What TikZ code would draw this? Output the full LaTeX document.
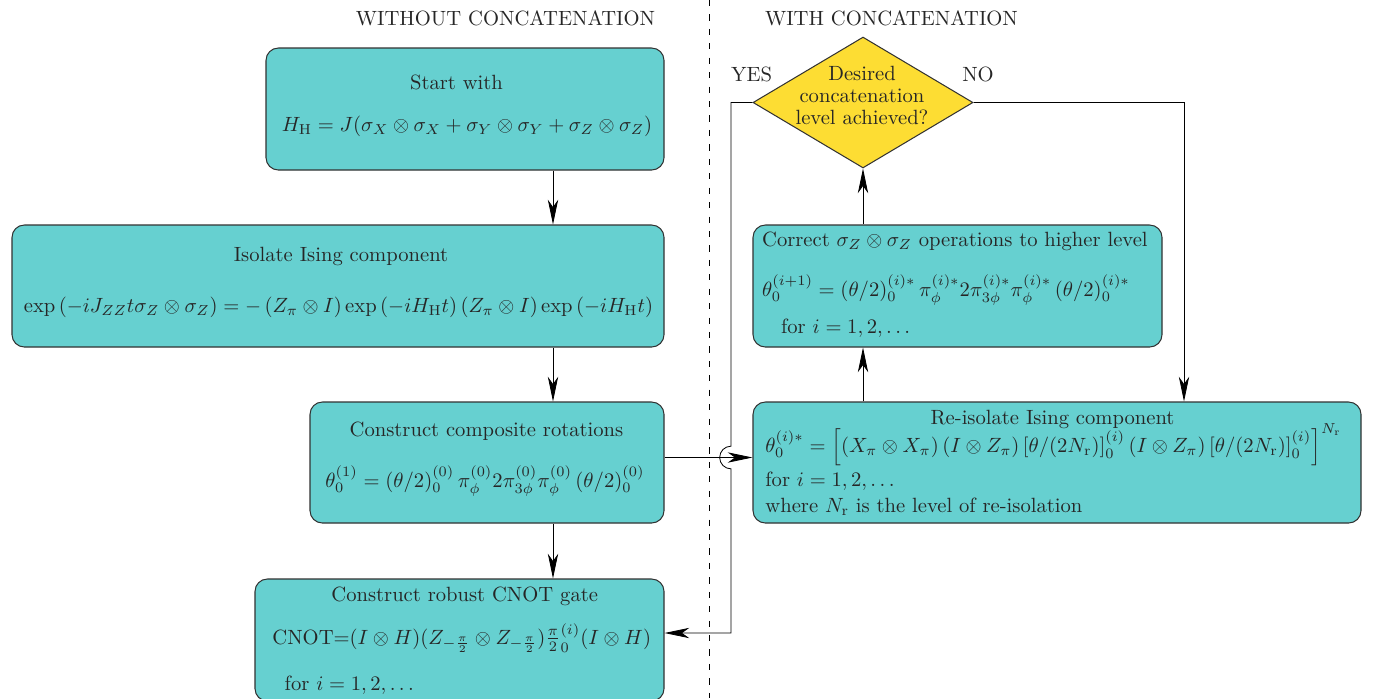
\documentclass[tikz,border=0pt]{standalone}
\usetikzlibrary{arrows.meta,shapes.geometric,fit,calc}
\definecolor{boxteal}{RGB}{102,208,208}
\definecolor{decyellow}{RGB}{253,221,51}
\definecolor{edgegray}{RGB}{50,50,50}
\begin{document}
\begin{tikzpicture}[x=0.485pt,y=-0.485pt,
  box/.style={draw=edgegray, fill=boxteal, rounded corners=6pt, line width=0.5pt, inner sep=0pt},
  dec/.style={diamond, draw=edgegray, fill=decyellow, line width=0.5pt, inner sep=0pt,
    minimum width=106.7pt, minimum height=63.5pt},
  arr/.style={draw=black, line width=0.4pt, -{Stealth[length=12pt,width=5pt,inset=3.5pt]}},
  lbl/.style={anchor=base, inner sep=0pt, text=black!85},
  lbll/.style={anchor=base west, inner sep=0pt, text=black!85}]
\clip (0,0) rectangle (1376,698);
\fill[white] (0,0) rectangle (1376,698);

% divider
\coordinate (divtop) at (709,0);
\coordinate (divbot) at (709,698);
\draw[dash pattern=on 3pt off 4pt, line width=0.4pt] (divtop) -- (divbot);

% headers
\node[lbl] (hwo) at (505.5,25) {WITHOUT CONCATENATION};
\node[lbl] (hw) at (891.5,25) {WITH CONCATENATION};

% boxes
\node[box, fit={(266,48) (664,170)}] (start) {};
\node[box, fit={(12,225) (664,347)}] (iso) {};
\node[box, fit={(310,402) (664,523)}] (comp) {};
\node[box, fit={(255,579) (664,701)}] (cnot) {};
\node[box, fit={(753,225) (1162,347)}] (corr) {};
\node[box, fit={(753,402) (1361,523)}] (reiso) {};
\node[dec] (dec) at (863,102.5) {};

% decision text
\node[lbl] (d1) at (862,80.7) {Desired};
\node[lbl] (d2) at (862,102.7) {concatenation};
\node[lbl] (d3) at (862,124.3) {level achieved?};
\node[lbl] (yes) at (751.7,81.7) {YES};
\node[lbl] (no) at (978,81.7) {NO};

% start
\node[lbl] (t1) at (456.5,89) {Start with};
\node[lbl] (f1) at (467,131) {$H_{\mathrm{H}} = J(\sigma_X\otimes\sigma_X+\sigma_Y\otimes\sigma_Y+\sigma_Z\otimes\sigma_Z)$};

% isolate
\node[lbl] (t2) at (341,261.7) {Isolate Ising component};
\node[lbl] (f2) at (338.5,312) {$\exp\left(-iJ_{ZZ}t\sigma_Z\otimes\sigma_Z\right) = -\left(Z_\pi\otimes I\right)\exp\left(-iH_{\mathrm{H}}t\right)\left(Z_\pi\otimes I\right)\exp\left(-iH_{\mathrm{H}}t\right)$};

% composite
\node[lbl] (t3) at (486.5,436.7) {Construct composite rotations};
\node[lbl] (f3) at (485,487) {$\theta_0^{(1)} = (\theta/2)_0^{(0)}\,\pi_\phi^{(0)}2\pi_{3\phi}^{(0)}\pi_\phi^{(0)}\,(\theta/2)_0^{(0)}$};

% cnot
\node[lbl] (t4) at (464.7,601) {Construct robust CNOT gate};
\node[lbl] (f4) at (461.7,644) {CNOT=$(I\otimes H)(Z_{-\frac{\pi}{2}}\otimes Z_{-\frac{\pi}{2}}){\frac{\pi}{2}}_0^{(i)}(I\otimes H)$};
\node[lbll] (g4) at (284.3,690) {for $i=1,2,\ldots$};

% correct
\node[lbll] (t5) at (761.7,246.7) {Correct $\sigma_Z\otimes\sigma_Z$ operations to higher level};
\node[lbll] (f5) at (761.7,296) {$\theta_0^{(i+1)} = (\theta/2)_0^{(i)*}\,\pi_\phi^{(i)*}2\pi_{3\phi}^{(i)*}\pi_\phi^{(i)*}\,(\theta/2)_0^{(i)*}$};
\node[lbll] (g5) at (780.7,333) {for $i=1,2,\ldots$};

% re-isolate
\node[lbl] (t6) at (1052.5,424) {Re-isolate Ising component};
\node[lbll] (f6) at (765,452) {$\theta_0^{(i)*} = \left[\left(X_\pi\otimes X_\pi\right)\left(I\otimes Z_\pi\right)\left[\theta/(2N_{\mathrm{r}})\right]_0^{(i)}\left(I\otimes Z_\pi\right)\left[\theta/(2N_{\mathrm{r}})\right]_0^{(i)}\right]^{N_{\mathrm{r}}}$};
\node[lbll] (g6) at (765,486) {for $i=1,2,\ldots$};
\node[lbll] (h6) at (765,512) {where $N_{\mathrm{r}}$ is the level of re-isolation};

% connectors
\coordinate (lx) at (553,0);
\coordinate (jmp) at (731,457.5);
\coordinate (nox) at (1184,103);
\coordinate (yesbot) at (731,633);
\draw[arr] (start.south -| lx) -- (iso.north -| lx);
\draw[arr] (iso.south -| lx) -- (comp.north -| lx);
\draw[arr] (comp.south -| lx) -- (cnot.north -| lx);
\draw[arr] (comp.east |- jmp) -- (reiso.west |- jmp);
\draw[arr] (reiso.north -| dec.south) -- (corr.south -| dec.south);
\draw[arr] (corr.north -| dec.south) -- (dec.south);
\draw[arr] (dec.east) -| (reiso.north -| nox);
\draw[arr] (dec.west) -- (dec.west -| jmp) -- ([yshift=5.5pt]jmp)
  arc[start angle=90,end angle=270,radius=5.5pt] -- (jmp |- yesbot) -- (cnot.east |- yesbot);
\end{tikzpicture}
\end{document}
